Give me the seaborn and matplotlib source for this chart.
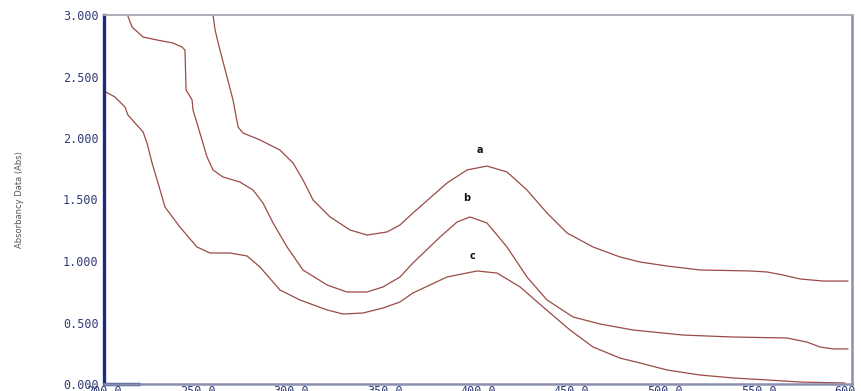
import matplotlib
matplotlib.use("Agg")
import matplotlib.pyplot as plt
import seaborn as sns
import pandas as pd

# Wavelength (nm) and absorbance readings for the three spectra
wl_a = [258.3, 259.4, 262.0, 265.8, 269.0, 271.7, 274.3, 283.4, 294.1, 301.1, 306.4, 311.8,
        320.9, 331.6, 340.6, 351.3, 358.3, 365.2, 383.4, 394.1, 404.8, 415.5, 426.2, 436.9,
        447.6, 461.5, 475.9, 486.6, 501.1, 518.7, 545.5, 554.5, 563.1, 572.2, 584.5, 597.9]
abs_a = [3.000, 2.878, 2.715, 2.496, 2.309, 2.089, 2.041, 1.984, 1.902, 1.797, 1.659, 1.496,
         1.358, 1.252, 1.211, 1.236, 1.293, 1.390, 1.634, 1.740, 1.772, 1.724, 1.577, 1.390,
         1.228, 1.114, 1.033, 0.992, 0.959, 0.927, 0.919, 0.911, 0.886, 0.854, 0.837, 0.837]

wl_b = [212.8, 215.0, 220.9, 228.3, 236.9, 241.7, 243.3, 243.9, 244.9, 247.1, 247.6, 249.7,
        252.4, 255.1, 258.3, 263.6, 272.7, 279.7, 285.0, 290.4, 297.9, 306.4, 319.3, 329.9,
        340.6, 349.2, 358.3, 365.2, 379.7, 388.8, 395.7, 404.8, 415.5, 426.2, 436.9, 450.8,
        465.2, 482.9, 509.6, 536.4, 565.2, 575.9, 582.9, 589.8, 597.9]
abs_b = [2.990, 2.902, 2.821, 2.797, 2.772, 2.740, 2.715, 2.390, 2.366, 2.309, 2.228, 2.122,
         1.984, 1.846, 1.740, 1.683, 1.642, 1.577, 1.472, 1.309, 1.114, 0.927, 0.805, 0.748,
         0.748, 0.789, 0.870, 0.984, 1.195, 1.317, 1.358, 1.309, 1.114, 0.870, 0.683, 0.545,
         0.488, 0.439, 0.398, 0.382, 0.374, 0.341, 0.301, 0.285, 0.285]

wl_c = [200.0, 205.9, 211.2, 212.8, 216.6, 220.9, 223.0, 225.7, 228.9, 232.6, 240.6, 249.7,
        256.7, 267.4, 276.5, 283.4, 294.1, 304.8, 319.3, 327.8, 338.5, 349.2, 358.3, 365.2,
        383.4, 399.5, 410.2, 422.5, 434.8, 449.2, 461.5, 475.9, 486.6, 501.1, 518.7, 536.4,
        554.5, 572.2, 596.3]
abs_c = [2.382, 2.333, 2.252, 2.187, 2.122, 2.049, 1.959, 1.797, 1.634, 1.439, 1.276, 1.114,
         1.065, 1.065, 1.041, 0.951, 0.764, 0.683, 0.602, 0.569, 0.577, 0.618, 0.667, 0.740,
         0.870, 0.919, 0.902, 0.789, 0.626, 0.439, 0.301, 0.211, 0.171, 0.114, 0.073, 0.049,
         0.033, 0.016, 0.008]

curve_names = ["a", "b", "c"]
label_pos = {"a": (401, 1.86), "b": (394, 1.47), "c": (397, 1.00)}

x_ticks = [200, 250, 300, 350, 400, 450, 500, 550, 600]
x_tick_labels = ["200.0", "250.0", "300.0", "350.0", "400.0", "450.0", "500.0", "550.0", "600.0"]
y_ticks = [0, 0.5, 1.0, 1.5, 2.0, 2.5, 3.0]
y_tick_labels = ["0.000", "0.500", "1.000", "1.500", "2.000", "2.500", "3.000"]

frames = []
for name, xs, ys in zip(curve_names, [wl_a, wl_b, wl_c], [abs_a, abs_b, abs_c]):
    frames.append(pd.DataFrame({"wavelength": xs, "absorbance": ys, "sample": name}))
df = pd.concat(frames, ignore_index=True)

sns.set_style("white")
line_color = "#9a4b45"
tick_color = "#333d78"

fig = plt.figure(figsize=(8.62, 3.91), dpi=100)
ax = fig.add_axes([104 / 862, 7 / 391, 748 / 862, 369 / 391])

sns.lineplot(data=df, x="wavelength", y="absorbance", hue="sample",
             palette={n: line_color for n in curve_names}, estimator=None,
             linewidth=0.9, legend=False, ax=ax)

for name, (lx, ly) in label_pos.items():
    ax.text(lx, ly, name, ha="center", va="bottom", fontsize=7, fontweight="bold", color="#111111")

ax.set_xlim(200, 600)
ax.set_ylim(0, 3.0)
ax.set_xticks(x_ticks)
ax.set_xticklabels(x_tick_labels)
ax.set_yticks(y_ticks)
ax.set_yticklabels(y_tick_labels)
ax.tick_params(axis="both", direction="in", length=3, width=0.8, color="#6a7090",
               labelsize=8.5, labelcolor=tick_color)
ax.tick_params(axis="y", pad=4)
ax.tick_params(axis="x", pad=1)
for lab in ax.get_xticklabels() + ax.get_yticklabels():
    lab.set_fontfamily("DejaVu Sans Mono")

ax.set_xlabel("")
ax.set_ylabel("Absorbancy Data (Abs)", fontsize=6, color="#555555", labelpad=28)

ax.spines["left"].set_color("#1c2a80")
ax.spines["left"].set_linewidth(2.4)
ax.spines["top"].set_color("#a8a8b4")
ax.spines["top"].set_linewidth(1.3)
ax.spines["right"].set_color("#8a90a8")
ax.spines["right"].set_linewidth(1.8)
ax.spines["bottom"].set_color("#8a90b0")
ax.spines["bottom"].set_linewidth(1.8)
# darker cursor segment at the lower-left corner of the frame
ax.plot([0, 0.048], [0, 0], transform=ax.transAxes, color="#1c2a80", linewidth=2.4,
        clip_on=False, solid_capstyle="butt")

fig.savefig("out.png", dpi=100)
